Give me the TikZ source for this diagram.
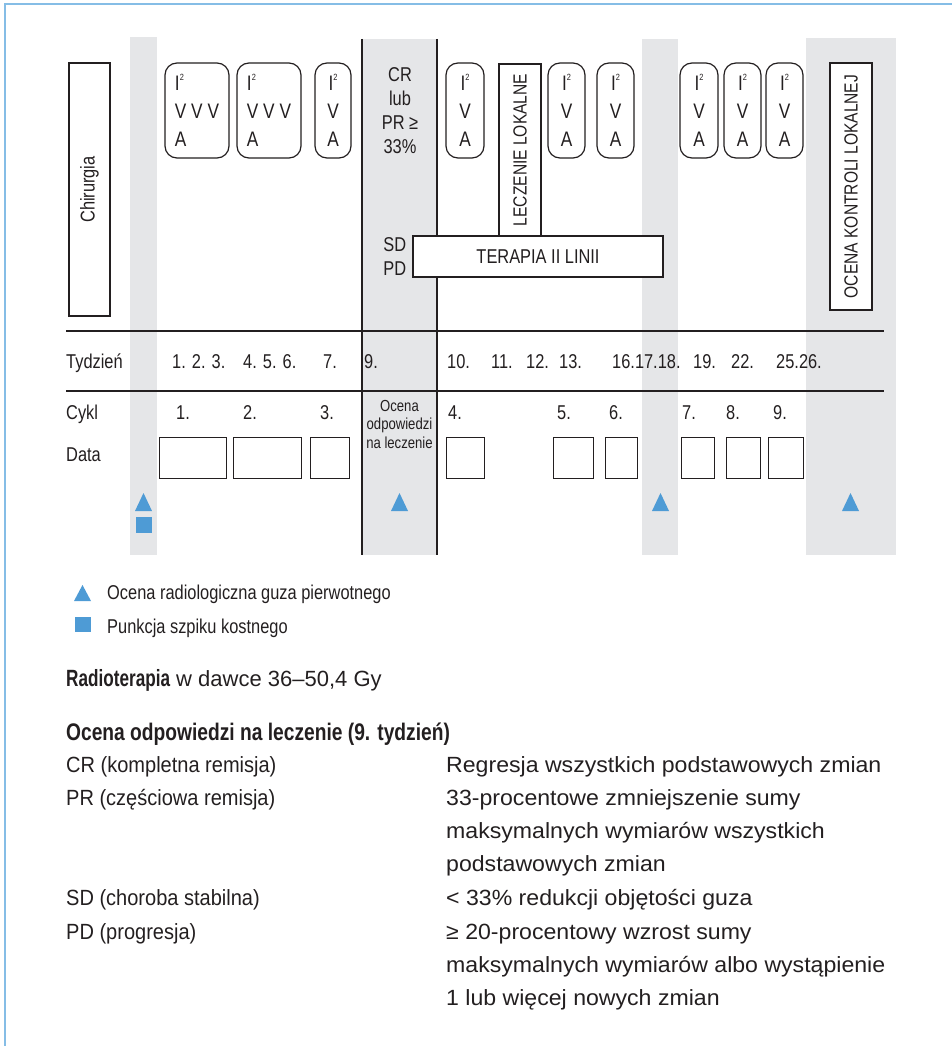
\documentclass[tikz,border=0pt]{standalone}
\usepackage{fontspec}
\setmainfont{Liberation Sans}
\newfontfamily\narrowfont[FakeStretch=0.82]{Liberation Sans}
\newfontfamily\headfont[FakeStretch=0.8]{Liberation Sans}
\newfontfamily\radfont[FakeStretch=0.73]{Liberation Sans}
\newfontfamily\termfont[FakeStretch=0.91]{Liberation Sans}
\newfontfamily\descfont[FakeStretch=1.05]{Liberation Sans}
\usetikzlibrary{positioning}
\definecolor{frameblue}{RGB}{133,189,230}
\definecolor{markblue}{RGB}{78,155,213}
\definecolor{bandgray}{RGB}{229,230,232}
\definecolor{ink}{RGB}{35,31,32}
\newcommand{\Isq}{I\raisebox{0.45em}{\fontsize{9}{9}\selectfont 2}}

\begin{document}
\begin{tikzpicture}[
  x=1pt, y=-1pt,
  every node/.style={text=ink},
  band/.style={fill=bandgray},
  rule/.style={draw=ink, line width=1.2pt},
  marker/.style={fill=markblue},
  txt/.style={inner sep=0pt, font=\narrowfont\fontsize{20}{24}\selectfont},
  lbl/.style={txt, anchor=base west},
  box/.style={txt, draw=ink, line width=1.2pt, fill=white},
  vbox/.style={box, rotate=90, minimum height=42pt, font=\narrowfont\fontsize{19}{24}\selectfont},
  rbox/.style={box, rounded corners=12pt, minimum height=95pt, font=\narrowfont\fontsize{21}{28}\selectfont},
  datebox/.style={draw=ink, line width=1.2pt, inner sep=0pt, minimum height=41pt, anchor=north west},
  body/.style={anchor=base west, inner sep=0pt, align=left, font=\fontsize{22}{33.3}\selectfont},
  term/.style={body, font=\termfont\fontsize{22}{33.3}\selectfont},
  desc/.style={body, font=\descfont\fontsize{22}{33.3}\selectfont}
]
\useasboundingbox (0,0) rectangle (952,1046);
\draw[frameblue, line width=2pt] (5,1046) -- (5,4) -- (952,4);

% grey week bands
\fill[band] (130,37) rectangle (157,555);
\fill[band] (362,39) rectangle (437,555);
\fill[band] (642,39) rectangle (678,555);
\fill[band] (806,38) rectangle (896,555);
\draw[rule] (362,39) -- (362,555) (437,39) -- (437,555);
\draw[rule] (66,331) -- (884,331);
\draw[rule] (66,391) -- (884,391);

% treatment row
\node[box, rotate=90, minimum width=253pt, minimum height=41pt] (chir) at (89.5,189.5) {Chirurgia};
\node[rbox, minimum width=64pt, align=left] (c1) at (197,110.5) {\Isq\\V V V\\A};
\node[rbox, minimum width=64pt, align=left] (c2) at (269,110.5) {\Isq\\V V V\\A};
\node[rbox, minimum width=36pt, align=center] (c3) at (333,110.5) {\Isq\\V\\A};
\node[txt, align=center] (crpr) at (400,111) {CR\\lub\\PR ≥\\33\%};
\node[rbox, minimum width=38pt, align=center] (c4) at (465,110.5) {\Isq\\V\\A};
\node[vbox, minimum width=172pt] (lecz) at (520,150) {LECZENIE LOKALNE};
\node[rbox, minimum width=37pt, align=center] (c5) at (566.5,110.5) {\Isq\\V\\A};
\node[rbox, minimum width=37pt, align=center] (c6) at (615.5,110.5) {\Isq\\V\\A};
\node[rbox, minimum width=38pt, align=center] (c7) at (699,110.5) {\Isq\\V\\A};
\node[rbox, minimum width=37pt, align=center] (c8) at (742.5,110.5) {\Isq\\V\\A};
\node[rbox, minimum width=37pt, align=center] (c9) at (784.5,110.5) {\Isq\\V\\A};
\node[vbox, minimum width=247pt] (kontr) at (851,186.5) {OCENA KONTROLI LOKALNEJ};
\node[box, minimum width=250pt, minimum height=41pt] (terapia) at (538,256.5) {TERAPIA II LINII};
\node[txt, align=right, left=6pt of terapia] (sdpd) {SD\\PD};

% week row
\node[lbl] (tydz) at (66,368) {Tydzień};
\node[lbl] (w1) at (172,368) {1. 2. 3.};
\node[lbl] (w4) at (243,368) {4. 5. 6.};
\node[lbl] (w7) at (323,368) {7.};
\node[lbl] (w9) at (364,368) {9.};
\node[lbl] (w10) at (447,368) {10.};
\node[lbl] (w11) at (491,368) {11.};
\node[lbl] (w12) at (526,368) {12.};
\node[lbl] (w13) at (559,368) {13.};
\node[lbl] (w16) at (612,368) {16.17.18.};
\node[lbl] (w19) at (693,368) {19.};
\node[lbl] (w22) at (731,368) {22.};
\node[lbl] (w25) at (776,368) {25.26.};

% cycle and date rows
\node[lbl] (cykl) at (66,419) {Cykl};
\node[lbl] (k1) at (176,419) {1.};
\node[lbl] (k2) at (243,419) {2.};
\node[lbl] (k3) at (320,419) {3.};
\node[lbl] (k4) at (448,419) {4.};
\node[lbl] (k5) at (557,419) {5.};
\node[lbl] (k6) at (609,419) {6.};
\node[lbl] (k7) at (682,419) {7.};
\node[lbl] (k8) at (726,419) {8.};
\node[lbl] (k9) at (773,419) {9.};
\node[txt, align=center, font=\narrowfont\fontsize{16}{18.5}\selectfont] (oceodp) at (399.5,424) {Ocena\\odpowiedzi\\na leczenie};
\node[lbl] (data) at (66,461) {Data};
\node[datebox, minimum width=67pt] (d1) at (159,437) {};
\node[datebox, minimum width=68pt] (d2) at (233,437) {};
\node[datebox, minimum width=39pt] (d3) at (310,437) {};
\node[datebox, minimum width=38pt] (d4) at (446,437) {};
\node[datebox, minimum width=40pt] (d5) at (553,437) {};
\node[datebox, minimum width=32pt] (d6) at (605,437) {};
\node[datebox, minimum width=33pt] (d7) at (681,437) {};
\node[datebox, minimum width=34pt] (d8) at (726,437) {};
\node[datebox, minimum width=35pt] (d9) at (768,437) {};

% markers
\fill[marker] (135,511) -- (152,511) -- (143.5,493) -- cycle;
\fill[marker] (136,517) rectangle (152,533);
\fill[marker] (391,511) -- (408,511) -- (399.5,493) -- cycle;
\fill[marker] (652,511) -- (669,511) -- (660.5,493) -- cycle;
\fill[marker] (842,511) -- (859,511) -- (850.5,493) -- cycle;

% legend
\fill[marker] (74,601) -- (91,601) -- (82.5,585) -- cycle;
\fill[marker] (75,617) rectangle (91,632);
\node[lbl] (legtri) at (107,599) {Ocena radiologiczna guza pierwotnego};
\node[lbl] (legsq) at (107,633) {Punkcja szpiku kostnego};

% notes (multi-line nodes sit on their last line)
\node[body] (radio) at (66,686) {{\radfont\bfseries\fontsize{23.5}{33}\selectfont Radioterapia} w dawce 36–50,4 Gy};
\node[body, font=\headfont\bfseries\fontsize{24}{33}\selectfont] (head) at (66,740) {Ocena odpowiedzi na leczenie (9. tydzień)};
\node[term] (crl) at (66,772) {CR (kompletna remisja)};
\node[desc] (crr) at (446,772) {Regresja wszystkich podstawowych zmian};
\node[term] (prl) at (66,805) {PR (częściowa remisja)};
\node[desc] (prr) at (446,871.6) {33-procentowe zmniejszenie sumy\\maksymalnych wymiarów wszystkich\\podstawowych zmian};
\node[term] (sdl) at (66,905) {SD (choroba stabilna)};
\node[desc] (sdr) at (446,905) {< 33\% redukcji objętości guza};
\node[term] (pdl) at (66,939) {PD (progresja)};
\node[desc] (pdr) at (446,1005.6) {≥ 20-procentowy wzrost sumy\\maksymalnych wymiarów albo wystąpienie\\1 lub więcej nowych zmian};
\end{tikzpicture}
\end{document}
